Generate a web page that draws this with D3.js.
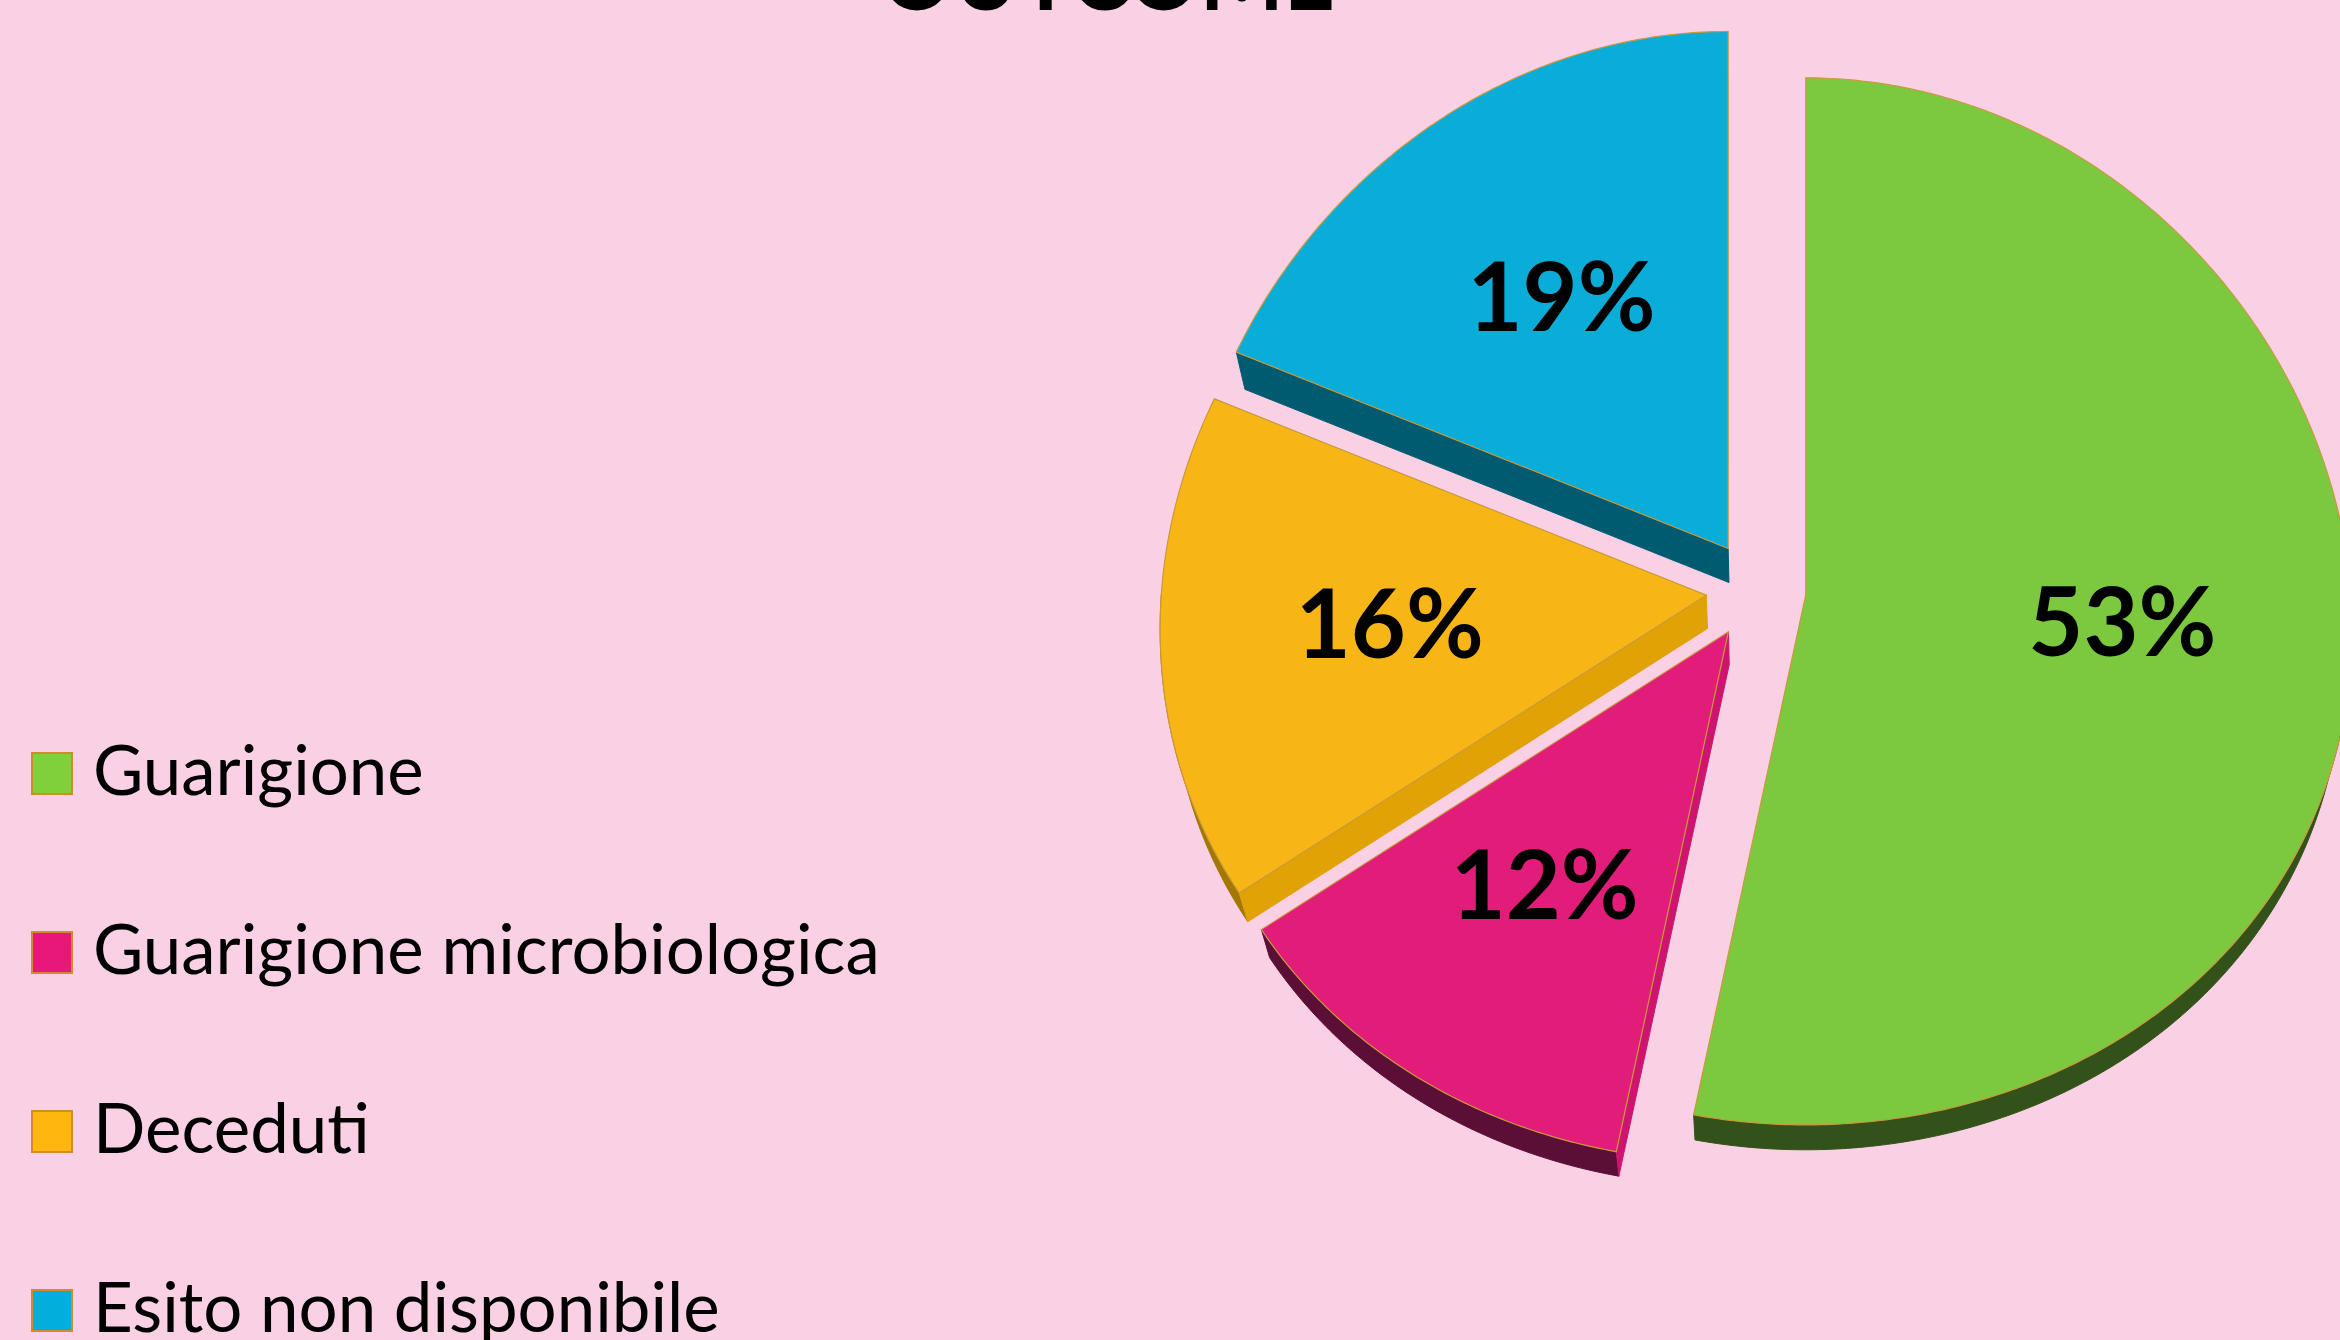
<!DOCTYPE html>
<meta charset="utf-8">
<style>
body { margin: 0; background: #fad0e4; }
text { font-family: Lato, "Open Sans", sans-serif; }
</style>
<body>
<script src="https://d3js.org/d3.v7.min.js"></script>
<script>

// data (slice sizes estimated from the angles, labels as printed)
var categories = ["Guarigione", "Guarigione microbiologica", "Deceduti", "Esito non disponibile"];
var values = [53.1, 12.4, 15.7, 18.8];
var title = "OUTCOME";

// colours: top face, legend swatch, radial wall, outer wall
var topColors = ["#7cc93f", "#e21c79", "#f7b616", "#0aacd8"];
var swatchColors = ["#80d03c", "#e8177a", "#ffb710", "#02aedc"];
var wallColors = ["#3a5c1d", "#cf1470", "#e1a206", "#005b70"];
var rimColors = ["#33521a", "#5c0f36", "#a27800", "#004a5c"];

var width = 2340, height = 1340;
var cx = 1756, cy = 590;
var rx = 545, rxPersp = 35, ryBack = 517, ryFront = 530;
var explode = 50;
// extrusion goes toward a vanishing point below the pie
var vx = 1780, vy = 2692, vt = 0.0159;

var fmt = d3.format(".0f");

var svg = d3.select("body").append("svg")
  .attr("width", width).attr("height", height);

svg.append("rect")
  .attr("width", width).attr("height", height)
  .attr("fill", "#fad0e4");

// title, cut off by the top edge as in the original
svg.append("text")
  .attr("x", 1108)
  .attr("y", 10)
  .attr("text-anchor", "middle")
  .style("font-size", "96px")
  .style("font-weight", "bold")
  .attr("fill", "#000")
  .attr("textLength", 454)
  .attr("lengthAdjust", "spacingAndGlyphs")
  .text(title);

var arcs = d3.pie().sort(null).value(function(d) { return d; })(values);

// point on the tilted disc, angle clockwise from 12 o'clock
function pt(o, a, f) {
  var yr = -Math.cos(a);
  var rxa = rx + rxPersp * yr;
  var ry = yr < 0 ? ryBack : ryFront;
  return [o[0] + f * rxa * Math.sin(a), o[1] + f * ry * yr];
}

function arcPts(o, a0, a1) {
  var n = Math.max(2, Math.ceil((a1 - a0) / 0.01));
  return d3.range(n + 1).map(function(i) { return pt(o, a0 + (a1 - a0) * i / n, 1); });
}

function down(p) { return [p[0] + (vx - p[0]) * vt, p[1] + (vy - p[1]) * vt]; }

var line = d3.line().curve(d3.curveLinearClosed);

// back slices first
var order = [3, 2, 0, 1];

order.forEach(function(i) {
  var d = arcs[i];
  var mid = (d.startAngle + d.endAngle) / 2;
  var apex = [cx + explode * Math.sin(mid), cy - explode * Math.cos(mid)];
  var g = svg.append("g").attr("class", "slice");

  // outer wall (front half only)
  var b0 = Math.max(d.startAngle, Math.PI / 2);
  var b1 = Math.min(d.endAngle, Math.PI * 1.5);
  if (b1 > b0) {
    var rim = arcPts(apex, b0, b1);
    g.append("path")
      .attr("d", line(rim.concat(rim.slice().reverse().map(down))))
      .attr("fill", rimColors[i])
      .attr("stroke", rimColors[i])
      .attr("stroke-width", 1);
  }

  // radial wall at the start edge
  if (Math.sin(d.startAngle) < -1e-6) {
    var p = pt(apex, d.startAngle, 1);
    g.append("path")
      .attr("d", line([apex, p, down(p), down(apex)]))
      .attr("fill", wallColors[i])
      .attr("stroke", wallColors[i])
      .attr("stroke-width", 1);
  }

  // radial wall at the end edge
  if (Math.sin(d.endAngle) > 1e-6) {
    var q = pt(apex, d.endAngle, 1);
    g.append("path")
      .attr("d", line([apex, q, down(q), down(apex)]))
      .attr("fill", wallColors[i]);
  }

  // top face
  g.append("path")
    .attr("d", line([apex].concat(arcPts(apex, d.startAngle, d.endAngle))))
    .attr("fill", topColors[i])
    .attr("stroke", "#c99a3a")
    .attr("stroke-width", 1.2);

  // percentage label
  var lp = pt(apex, mid, 0.58);
  g.append("text")
    .attr("x", lp[0])
    .attr("y", lp[1])
    .attr("dy", "0.33em")
    .attr("text-anchor", "middle")
    .style("font-size", "95px")
    .style("font-weight", "bold")
    .attr("fill", "#000")
    .text(fmt(d.value) + "%");
});

// legend
var legend = svg.selectAll("g.legend").data(categories)
  .enter().append("g").attr("class", "legend")
  .attr("transform", function(d, i) { return "translate(31," + (795 + i * 179) + ")"; });

legend.append("rect")
  .attr("x", 1)
  .attr("y", -42)
  .attr("width", 40)
  .attr("height", 41)
  .attr("fill", function(d, i) { return swatchColors[i]; })
  .attr("stroke", "#d48a2a")
  .attr("stroke-width", 2);

legend.append("text")
  .attr("x", 62)
  .attr("y", 0)
  .style("font-size", "69px")
  .attr("fill", "#000")
  .text(function(d) { return d; });

</script>
</body>
